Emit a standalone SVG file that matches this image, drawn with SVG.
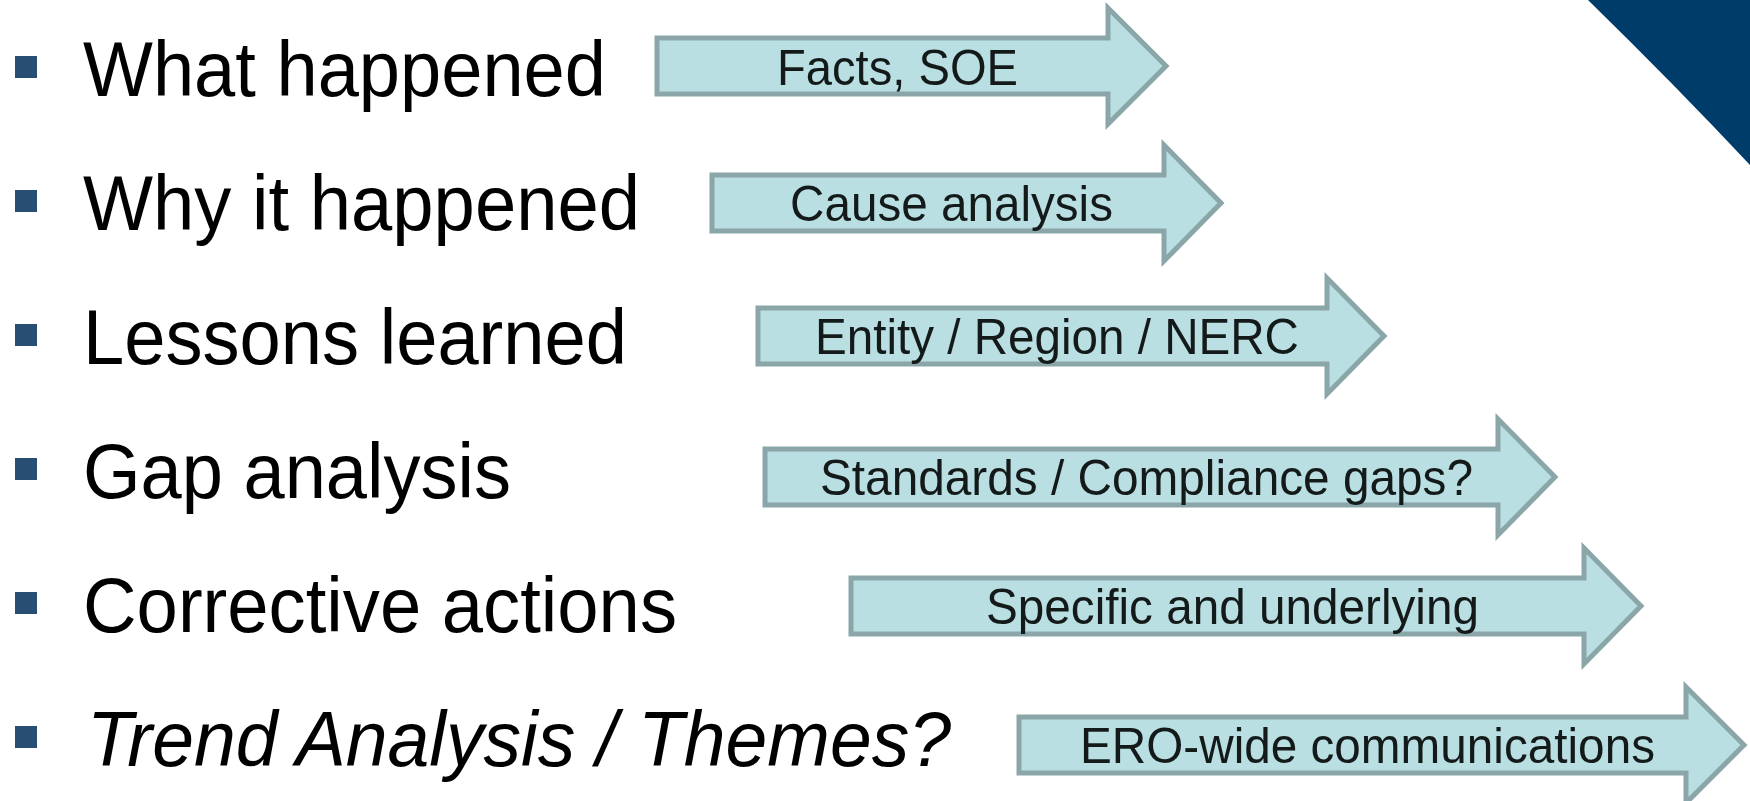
<svg xmlns="http://www.w3.org/2000/svg" width="1750" height="801" viewBox="0 0 1750 801">
<style>
.bul{fill:#284e74}
.item{font-family:"Liberation Sans",Arial,sans-serif;font-size:78px;fill:#000}
.arr{fill:#b9dfe2;stroke:#8ba6a8;stroke-width:5;stroke-linejoin:miter}
.lbl{font-family:"Liberation Sans",Arial,sans-serif;font-size:50px;fill:#141a1a}
</style>
<rect width="1750" height="801" fill="#fff"/>
<path id="corner" d="M1588,0 Q1675,85 1750,165 L1750,0 Z" fill="#003c69"/>
<g id="items">
<g id="item1"><rect class="bul" x="15" y="56" width="22" height="22"/><text class="item" x="83" y="96" textLength="523" lengthAdjust="spacingAndGlyphs">What happened</text></g>
<g id="item2"><rect class="bul" x="15" y="190" width="22" height="22"/><text class="item" x="83" y="230" textLength="557" lengthAdjust="spacingAndGlyphs">Why it happened</text></g>
<g id="item3"><rect class="bul" x="15" y="324" width="22" height="22"/><text class="item" x="83" y="364" textLength="544" lengthAdjust="spacingAndGlyphs">Lessons learned</text></g>
<g id="item4"><rect class="bul" x="15" y="458" width="22" height="22"/><text class="item" x="83" y="498" textLength="428" lengthAdjust="spacingAndGlyphs">Gap analysis</text></g>
<g id="item5"><rect class="bul" x="15" y="592" width="22" height="22"/><text class="item" x="83" y="632" textLength="594" lengthAdjust="spacingAndGlyphs">Corrective actions</text></g>
<g id="item6"><rect class="bul" x="15" y="726" width="22" height="22"/><text class="item" x="87" y="766" font-style="italic" textLength="864" lengthAdjust="spacingAndGlyphs">Trend Analysis / Themes?</text></g>
</g>
<g id="arrows">
<g id="arrow1"><polygon class="arr" points="657,38 1108,38 1108,8 1166,66 1108,124 1108,94 657,94"/><text class="lbl" x="777" y="85" textLength="241" lengthAdjust="spacingAndGlyphs">Facts, SOE</text></g>
<g id="arrow2"><polygon class="arr" points="712,175 1164,175 1164,145 1221,203 1164,261 1164,231 712,231"/><text class="lbl" x="790" y="221" textLength="323" lengthAdjust="spacingAndGlyphs">Cause analysis</text></g>
<g id="arrow3"><polygon class="arr" points="758,308 1327,308 1327,278 1384,336 1327,394 1327,364 758,364"/><text class="lbl" x="815" y="354" textLength="484" lengthAdjust="spacingAndGlyphs">Entity / Region / NERC</text></g>
<g id="arrow4"><polygon class="arr" points="765,449 1498,449 1498,419 1555,477 1498,535 1498,505 765,505"/><text class="lbl" x="820" y="495" textLength="653" lengthAdjust="spacingAndGlyphs">Standards / Compliance gaps?</text></g>
<g id="arrow5"><polygon class="arr" points="851,578 1584,578 1584,548 1641,606 1584,664 1584,634 851,634"/><text class="lbl" x="986" y="624" textLength="493" lengthAdjust="spacingAndGlyphs">Specific and underlying</text></g>
<g id="arrow6"><polygon class="arr" points="1019,717 1686,717 1686,687 1744,745 1686,803 1686,773 1019,773"/><text class="lbl" x="1080" y="763" textLength="575" lengthAdjust="spacingAndGlyphs">ERO-wide communications</text></g>
</g>
</svg>
